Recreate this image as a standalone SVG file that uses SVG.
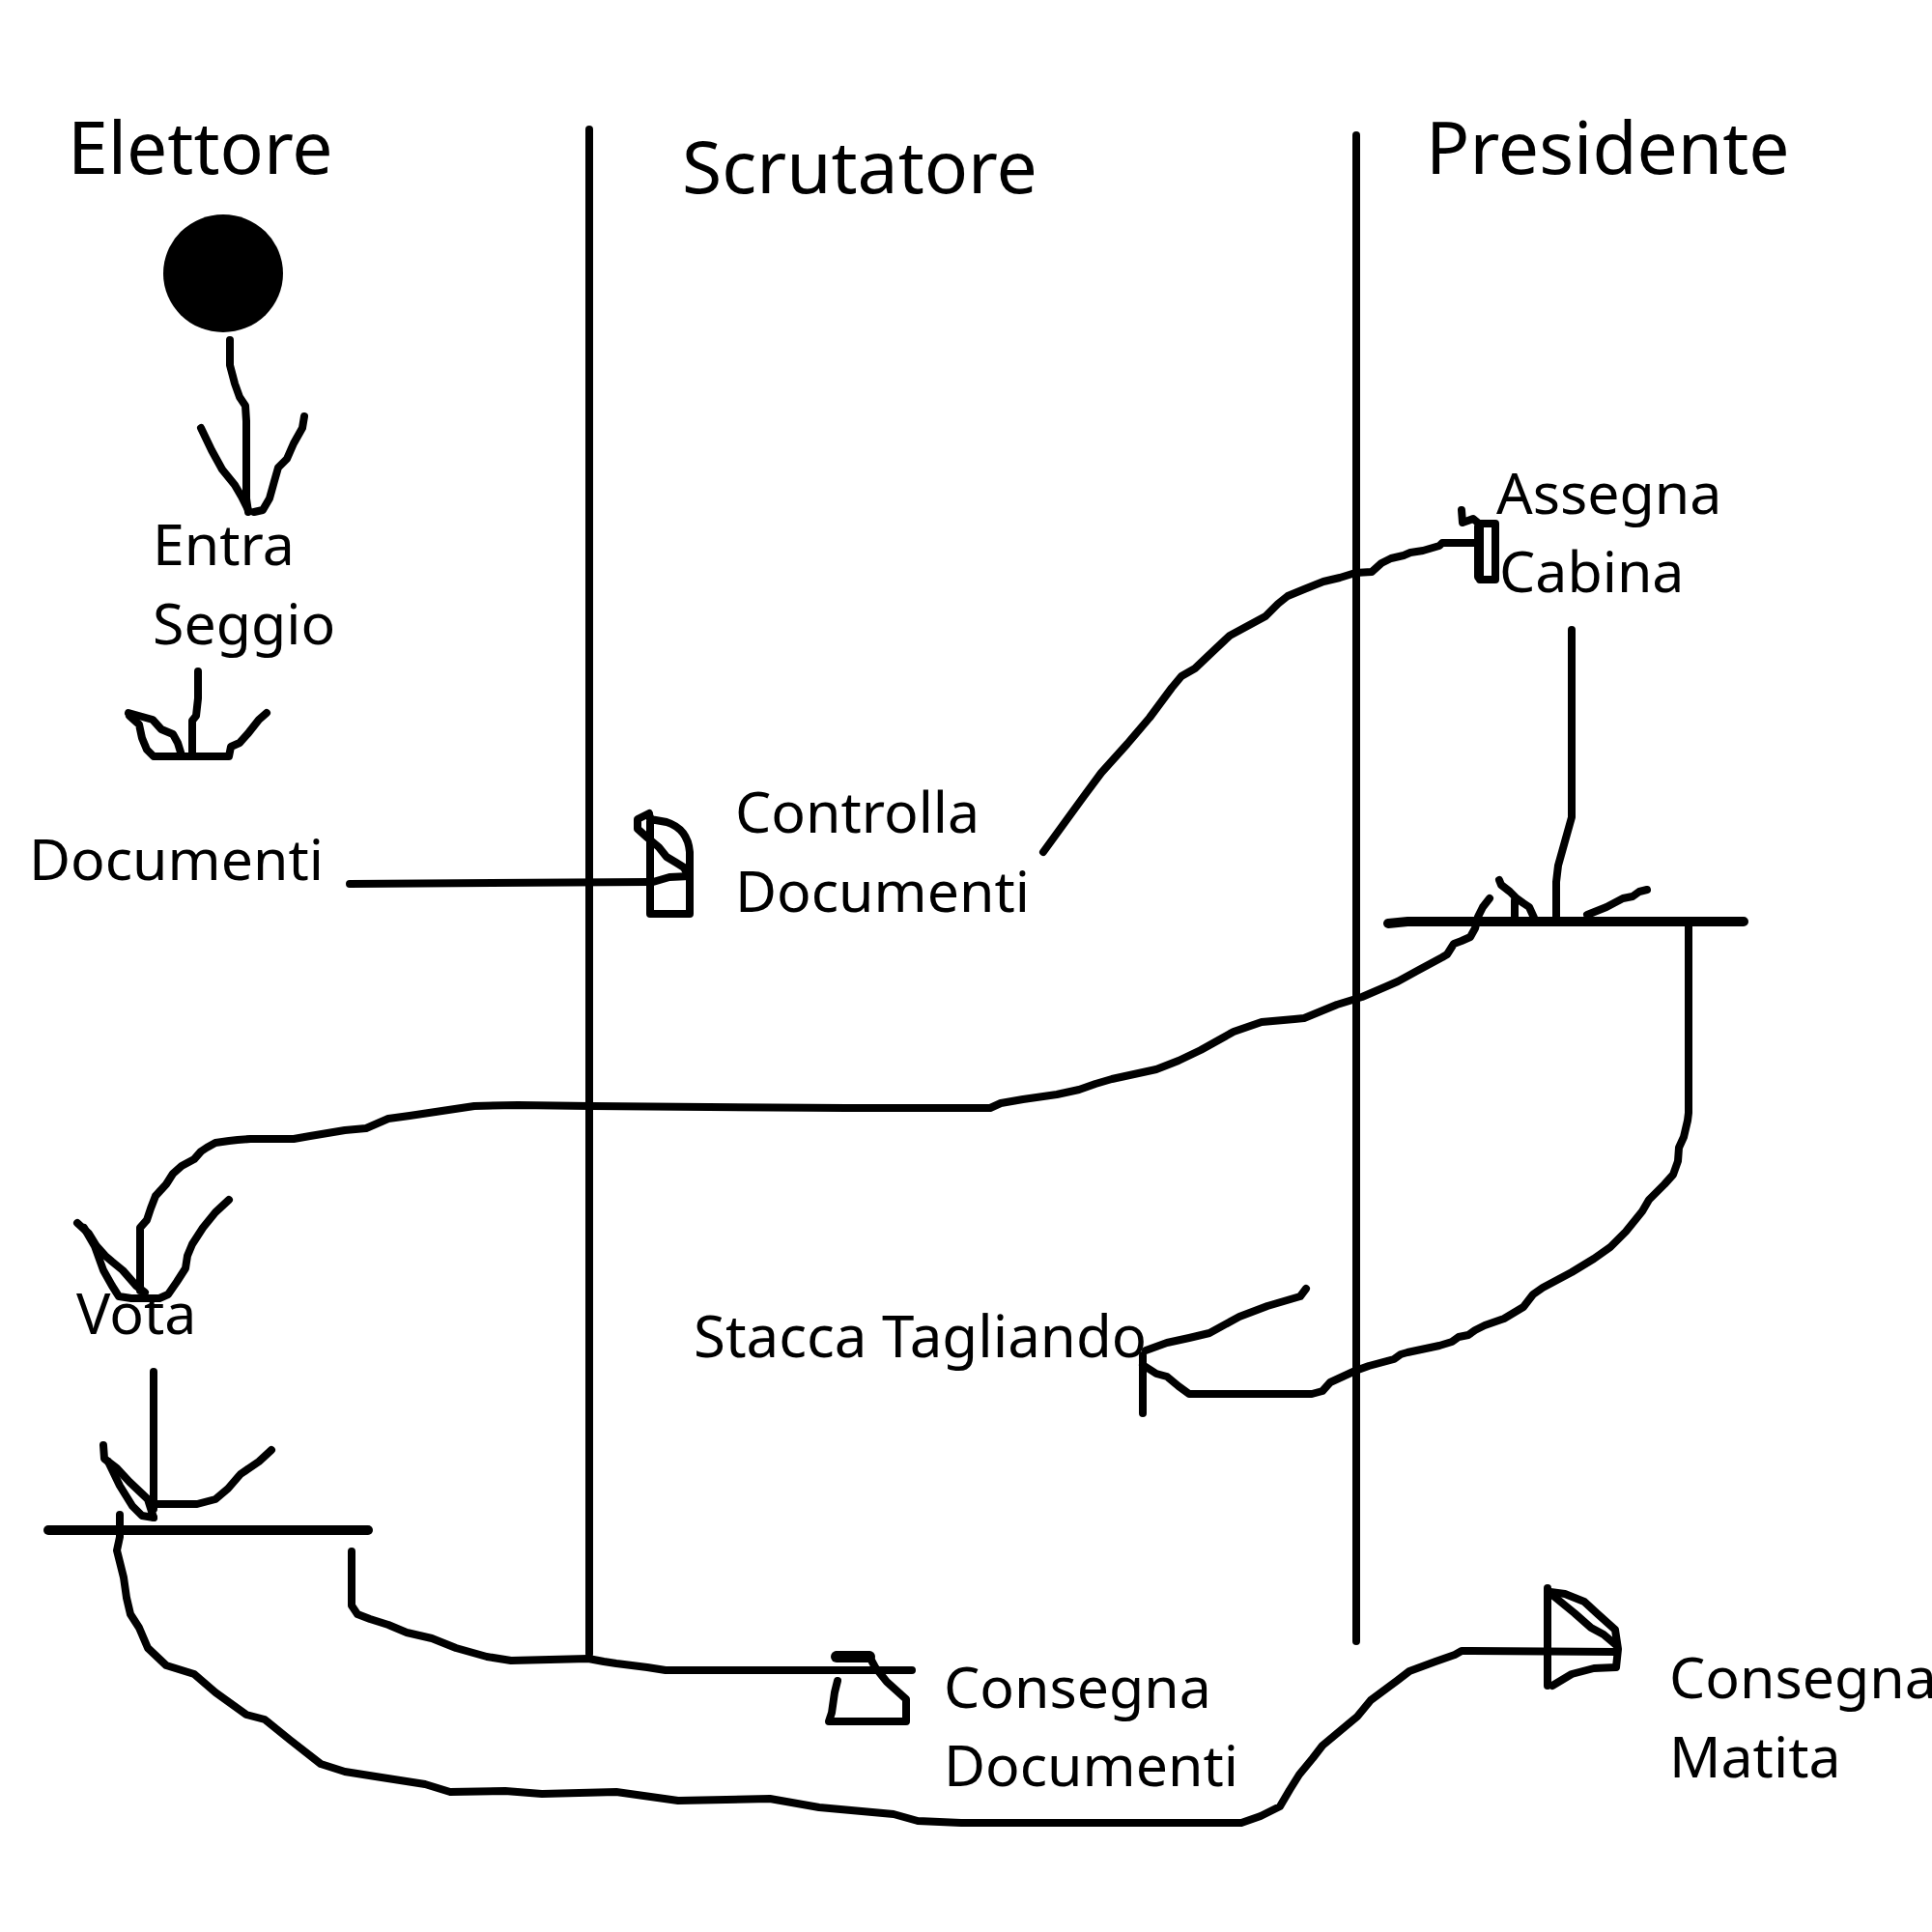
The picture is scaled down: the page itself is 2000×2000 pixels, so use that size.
<svg xmlns="http://www.w3.org/2000/svg" width="2000" height="2000" viewBox="0 0 2000 2000">
<style>
.ln{fill:none;stroke:#000;stroke-width:8;stroke-linecap:round;stroke-linejoin:round}
.bar{fill:none;stroke:#000;stroke-width:10;stroke-linecap:round}
.lane{fill:none;stroke:#000;stroke-width:8;stroke-linecap:round}
.hd{font-family:"Noto Sans","Open Sans",sans-serif;font-size:75px;fill:#000}
.lb{font-family:"Noto Sans","Open Sans",sans-serif;font-size:59px;fill:#000}
</style>
<rect width="2000" height="2000" fill="#fff"/>
<g id="lanes">
<path class="lane" d="M610 134V1712"/>
<path class="lane" d="M1404 140V1699"/>
<text class="hd" x="70" y="180">Elettore</text>
<text class="hd" x="706" y="200">Scrutatore</text>
<text class="hd" x="1476" y="180">Presidente</text>
</g>
<g id="start"><ellipse cx="231" cy="283" rx="62" ry="61" fill="#000"/></g>
<g id="entra-seggio"><text class="lb" x="158" y="585">Entra</text><text class="lb" x="158" y="667">Seggio</text></g>
<g id="documenti"><text class="lb" x="30" y="911">Documenti</text></g>
<g id="controlla-documenti">
<path class="ln" d="M673 846V946H714V882Q712 858 690 851L673 848"/>
<path class="ln" d="M672 842L660 848L660 858L670 867L682 877L690 887L700 893L708 898L712 906"/>
<path class="ln" d="M676 913L693 908L714 907"/>
<text class="lb" x="761" y="862">Controlla</text><text class="lb" x="761" y="944">Documenti</text>
</g>
<g id="assegna-cabina">
<path class="ln" d="M1513 528L1514 541L1525 537L1531 542H1548V600H1532V548"/>
<path class="ln" d="M1531 545V597" style="stroke-width:10"/>
<text class="lb" x="1549" y="532">Assegna</text><text class="lb" x="1552" y="613">Cabina</text>
</g>
<g id="fork-presidente">
<path class="bar" d="M1437 956L1457 954L1805 954"/>
<path class="ln" d="M1552 911L1554 916L1563 923L1570 930L1577 935L1583 939L1588 950"/>
<path class="ln" d="M1568 932V949"/>
<path class="ln" d="M1643 947L1663 939L1680 930L1690 928L1697 923L1705 921"/>
</g>
<g id="vota"><text class="lb" x="79" y="1381">Vota</text></g>
<g id="fork-elettore"><path class="bar" d="M50 1584H381"/></g>
<g id="stacca-tagliando">
<path class="ln" d="M1183 1403V1463"/>
<text class="lb" x="718" y="1405" style="font-size:60px">Stacca Tagliando</text>
</g>
<g id="consegna-documenti">
<path class="ln" d="M867 1713H899L906 1726L918 1741L938 1759V1782H858L861 1773L864 1752L867 1740"/>
<path class="ln" d="M866 1715L900 1715" style="stroke-width:12"/>
<text class="lb" x="977" y="1768">Consegna</text><text class="lb" x="977" y="1849">Documenti</text>
</g>
<g id="consegna-matita">
<path class="ln" d="M1602 1644V1745"/>
<path class="ln" d="M1605 1648L1620 1650L1640 1658L1653 1670L1672 1687L1675 1707L1673 1726L1650 1727L1627 1733L1607 1745"/>
<path class="ln" d="M1608 1652L1630 1670L1647 1685L1660 1692L1673 1703"/>
<text class="lb" x="1728" y="1758">Consegna</text><text class="lb" x="1728" y="1840">Matita</text>
</g>
<g id="connectors">
<path class="ln" d="M238 352V378L243 397L248 411L254 420L255 436V516L257 530"/>
<path class="ln" d="M208 443L219 466L230 486L243 502L250 514L257 528"/>
<path class="ln" d="M315 431L313 443L304 459L297 475L288 484L284 498L279 516L272 528L263 530"/>
<path class="ln" d="M205 695V723L203 741L199 746V783"/>
<path class="ln" d="M133 738L158 745L167 755L179 760L184 769L188 782"/>
<path class="ln" d="M134 741L144 750L147 764L152 776L159 783H237L239 773L248 769L257 759L268 745L276 738"/>
<path class="ln" d="M362 915L672 913"/>
<path class="ln" d="M1080 882L1120 827L1140 800L1167 770L1190 743L1213 712L1223 700L1237 692L1257 673L1273 658L1310 638L1323 625L1333 617L1350 610L1370 602L1387 598L1403 593L1420 592L1430 583L1440 578L1453 575L1460 572L1473 570L1490 565L1493 562H1530"/>
<path class="ln" d="M1627 652V846L1620 871L1613 896L1611 913V950"/>
<path class="ln" d="M1542 930L1535 939L1530 949L1527 961L1522 970L1513 974L1505 977L1498 988L1493 991L1467 1005L1447 1016L1410 1032L1384 1040L1350 1054L1340 1055L1306 1058L1277 1068L1243 1087L1220 1098L1197 1107L1151 1117L1134 1122L1117 1128L1094 1133L1059 1138L1036 1142L1025 1147H876L612 1145L536 1144L491 1145L424 1155L402 1158L379 1168L357 1170L321 1176L304 1179H259L246 1180L237 1181L223 1183L214 1188L208 1192L201 1200L188 1207L179 1215L172 1226L161 1238L156 1251L152 1263L145 1271V1336"/>
<path class="ln" d="M80 1266L92 1277L100 1290L109 1300L116 1306L127 1315L134 1323L141 1331L150 1338"/>
<path class="ln" d="M87 1271L98 1290L107 1315L116 1331L123 1342L136 1344H165L174 1340L183 1327L192 1313L194 1300L199 1288L210 1271L223 1255L237 1242"/>
<path class="ln" d="M1748 958V1152L1747 1160L1743 1177L1738 1188L1737 1202L1732 1216L1723 1226L1707 1242L1700 1254L1683 1275L1667 1291L1650 1303L1627 1317L1597 1333L1587 1340L1577 1353L1557 1365L1537 1372L1527 1377L1520 1382L1510 1384L1503 1389L1490 1393L1457 1400L1450 1402L1443 1407L1417 1414L1403 1419L1377 1431L1369 1440L1358 1443H1231L1220 1435L1208 1425L1197 1422L1183 1413"/>
<path class="ln" d="M1186 1398L1208 1390L1231 1385L1252 1380L1283 1363L1312 1352L1346 1342L1352 1334"/>
<path class="ln" d="M159 1420V1562"/>
<path class="ln" d="M107 1496L108 1510L121 1520L134 1534L153 1552L159 1571"/>
<path class="ln" d="M112 1513L124 1538L137 1559L147 1569L159 1571"/>
<path class="ln" d="M159 1557H204L223 1552L236 1541L249 1526L268 1513L281 1501"/>
<path class="ln" d="M364 1606V1662L370 1671L383 1676L402 1682L421 1690L447 1696L472 1706L504 1715L529 1719L609 1717L625 1720L638 1722L670 1726L689 1729H944"/>
<path class="ln" d="M124 1568V1591L121 1605L128 1633L131 1654L135 1671L144 1685L153 1706L172 1724L201 1733L223 1752L255 1775L274 1780L300 1801L332 1826L357 1834L395 1840L440 1847L466 1855L523 1854L561 1857L638 1855L702 1864L797 1862L848 1871L925 1878L950 1885L995 1887L1285 1887L1305 1880L1325 1870L1335 1853L1345 1837L1359 1820L1369 1807L1405 1777L1419 1760L1446 1740L1459 1730L1486 1720L1506 1713L1513 1709L1674 1710"/>
</g>
</svg>
